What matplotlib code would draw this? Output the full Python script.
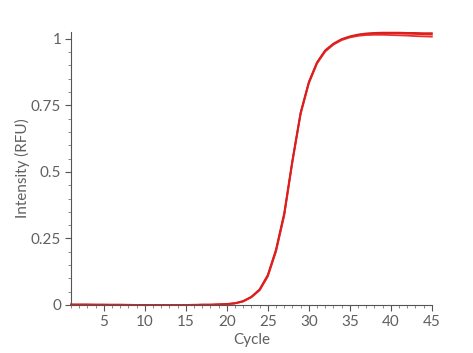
import numpy as np
import matplotlib.pyplot as plt
from matplotlib.ticker import MultipleLocator, FuncFormatter

plt.rcParams["font.family"] = ["Lato", "DejaVu Sans"]

cycles = list(range(1, 46))

# three replicate amplification curves (normalised RFU)
rep_a = [0.001, 0.001, 0.001, 0.001, 0.001, 0.001, 0.001, 0.000, 0.000, 0.000,
         0.000, 0.000, 0.000, 0.000, 0.000, 0.000, 0.001, 0.001, 0.002, 0.003,
         0.006, 0.014, 0.030, 0.057, 0.110, 0.205, 0.340, 0.540, 0.720, 0.835,
         0.910, 0.955, 0.980, 0.997, 1.007, 1.014, 1.018, 1.020, 1.021, 1.021,
         1.020, 1.019, 1.018, 1.017, 1.016]
rep_b = [0.002, 0.002, 0.002, 0.001, 0.001, 0.001, 0.001, 0.001, 0.000, 0.000,
         0.000, 0.000, 0.000, 0.000, 0.000, 0.000, 0.001, 0.001, 0.002, 0.003,
         0.006, 0.013, 0.029, 0.055, 0.107, 0.200, 0.335, 0.535, 0.716, 0.832,
         0.907, 0.952, 0.978, 0.995, 1.005, 1.011, 1.014, 1.015, 1.015, 1.014,
         1.013, 1.012, 1.010, 1.009, 1.008]
rep_c = [0.001, 0.001, 0.001, 0.001, 0.001, 0.000, 0.000, 0.000, 0.000, 0.000,
         0.000, 0.000, 0.000, 0.000, 0.000, 0.001, 0.001, 0.001, 0.002, 0.004,
         0.007, 0.015, 0.031, 0.059, 0.113, 0.209, 0.346, 0.545, 0.724, 0.838,
         0.912, 0.957, 0.982, 0.999, 1.009, 1.016, 1.020, 1.022, 1.023, 1.023,
         1.023, 1.022, 1.022, 1.021, 1.021]

replicates = [rep_a, rep_b, rep_c]
colors = ["#e82420", "#e53030", "#d91e1e"]

fig = plt.figure(figsize=(4.73, 3.53), dpi=100)
ax = fig.add_axes([0.150, 0.136, 0.763, 0.773])

for ys, c in zip(replicates, colors):
    ax.plot(cycles, ys, color=c, linewidth=1.3, clip_on=False)

ax.set_xlim(1, 45)
ax.set_ylim(0, 1.025)

ax.xaxis.set_major_locator(MultipleLocator(5))
ax.xaxis.set_minor_locator(MultipleLocator(1))
ax.yaxis.set_major_locator(MultipleLocator(0.25))
ax.yaxis.set_minor_locator(MultipleLocator(0.05))
ax.yaxis.set_major_formatter(FuncFormatter(lambda v, p: f"{v:g}"))

for s in ["top", "right"]:
    ax.spines[s].set_visible(False)
for s in ["left", "bottom"]:
    ax.spines[s].set_color("#555555")
    ax.spines[s].set_linewidth(0.8)

ax.tick_params(which="major", length=4, width=0.8, color="#555555",
               labelcolor="#606060", labelsize=11, pad=3)
ax.tick_params(which="minor", length=2, width=0.6, color="#777777")

ax.set_xlabel("Cycle", color="#606060", fontsize=11, labelpad=3)
ax.set_ylabel("Intensity (RFU)", color="#606060", fontsize=11, labelpad=1)

fig.savefig("out.png", dpi=100)
